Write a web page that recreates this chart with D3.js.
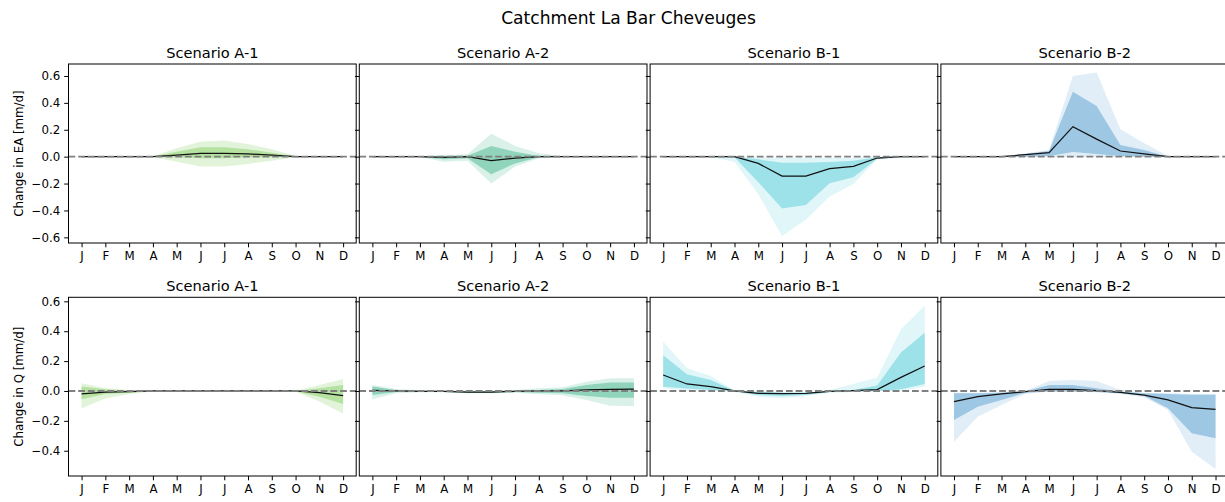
<!DOCTYPE html>
<html>
<head>
<meta charset="utf-8">
<script src="https://cdn.jsdelivr.net/npm/d3@7"></script>
<style>
  html, body { margin: 0; padding: 0; background: #fff; }
  svg { display: block; font-family: "DejaVu Sans", sans-serif; }
</style>
</head>
<body>
<svg id="chart" width="1225" height="502"></svg>
<script>
// Month tick labels and panel titles
const months = ["J", "F", "M", "A", "M", "J", "J", "A", "S", "O", "N", "D"];
const scenarios = ["Scenario A-1", "Scenario A-2", "Scenario B-1", "Scenario B-2"];

// Y axis ticks for each row
const ticksEA = [-0.6, -0.4, -0.2, 0.0, 0.2, 0.4, 0.6];
const ticksQ = [-0.4, -0.2, 0.0, 0.2, 0.4, 0.6];

// Change in actual evapotranspiration (EA), mm/d: median, inner band, outer band
const eaA1Med     = [0, 0, 0, 0, 0.012, 0.025, 0.025, 0.02, 0.012, 0, 0, 0];
const eaA1InnerHi = [0, 0, 0, 0.001, 0.037, 0.07, 0.07, 0.055, 0.03, 0.002, 0, 0];
const eaA1InnerLo = [0, 0, 0, -0.001, -0.005, -0.012, -0.012, -0.005, -0.005, 0, 0, 0];
const eaA1OuterHi = [0, 0, 0, 0.003, 0.062, 0.11, 0.12, 0.094, 0.055, 0.005, 0, 0];
const eaA1OuterLo = [0, 0, 0, -0.003, -0.037, -0.074, -0.074, -0.054, -0.03, -0.005, 0, 0];

const eaA2Med     = [0, 0, 0, -0.005, 0, -0.03, -0.01, 0, 0, 0, 0, 0];
const eaA2InnerHi = [0, 0, 0, 0.005, 0.007, 0.08, 0.037, 0.005, 0, 0, 0, 0];
const eaA2InnerLo = [0, 0, -0.002, -0.02, -0.012, -0.13, -0.05, -0.005, 0, 0, 0, 0];
const eaA2OuterHi = [0, 0, 0, 0.012, 0.017, 0.17, 0.08, 0.025, 0.005, 0, 0, 0];
const eaA2OuterLo = [0, 0, -0.003, -0.037, -0.03, -0.2, -0.074, -0.012, -0.003, 0, 0, 0];

const eaB1Med     = [0, 0, 0, 0, -0.05, -0.144, -0.144, -0.089, -0.072, -0.01, 0, 0];
const eaB1InnerHi = [0, 0, 0, 0, -0.02, -0.045, -0.045, -0.04, -0.03, -0.005, 0, 0];
const eaB1InnerLo = [0, 0, -0.002, -0.005, -0.19, -0.385, -0.36, -0.198, -0.153, -0.015, -0.005, 0];
const eaB1OuterHi = [0, 0, 0, 0, -0.005, -0.01, -0.01, -0.01, -0.01, 0, 0, 0];
const eaB1OuterLo = [0, 0, -0.005, -0.037, -0.28, -0.59, -0.47, -0.297, -0.203, -0.02, -0.008, 0];

const eaB2Med     = [0, 0, 0, 0.015, 0.03, 0.223, 0.13, 0.042, 0.02, 0, 0, 0];
const eaB2InnerHi = [0, 0, 0, 0.02, 0.042, 0.483, 0.377, 0.087, 0.05, 0, 0, 0];
const eaB2InnerLo = [0, 0, 0, 0, 0.005, 0.035, 0.02, 0.005, 0, 0, 0, 0];
const eaB2OuterHi = [0, 0, 0, 0.025, 0.05, 0.6, 0.625, 0.203, 0.1, 0.005, 0, 0];
const eaB2OuterLo = [0, 0, 0, -0.002, -0.003, -0.005, -0.003, -0.003, -0.002, 0, 0, 0];

// Change in discharge (Q), mm/d
const qA1Med     = [-0.02, -0.007, -0.004, 0, 0, 0, 0, 0, 0, 0, -0.011, -0.031];
const qA1InnerHi = [0.03, 0.011, 0.002, 0, 0, 0, 0, 0, 0, 0, 0.018, 0.04];
const qA1InnerLo = [-0.056, -0.02, -0.011, -0.002, -0.001, -0.001, -0.001, -0.001, -0.001, -0.002, -0.038, -0.087];
const qA1OuterHi = [0.051, 0.018, 0.006, 0.001, 0.001, 0.001, 0.001, 0.001, 0.001, 0.002, 0.04, 0.08];
const qA1OuterLo = [-0.116, -0.05, -0.02, -0.003, -0.002, -0.002, -0.002, -0.002, -0.002, -0.004, -0.071, -0.15];

const qA2Med     = [0.004, 0, -0.002, -0.002, -0.007, -0.007, -0.002, 0, 0, 0.007, 0.011, 0.013];
const qA2InnerHi = [0.03, 0.007, 0.002, 0, 0, 0, 0.002, 0.007, 0.013, 0.04, 0.056, 0.056];
const qA2InnerLo = [-0.027, -0.007, -0.007, -0.007, -0.011, -0.011, -0.007, -0.011, -0.016, -0.033, -0.045, -0.045];
const qA2OuterHi = [0.04, 0.013, 0.007, 0.002, 0.002, 0.002, 0.007, 0.018, 0.025, 0.062, 0.085, 0.085];
const qA2OuterLo = [-0.056, -0.016, -0.009, -0.009, -0.016, -0.016, -0.011, -0.022, -0.029, -0.06, -0.098, -0.1];

const qB1Med     = [0.107, 0.047, 0.029, 0, -0.016, -0.018, -0.016, -0.002, 0.002, 0.009, 0.091, 0.167];
const qB1InnerHi = [0.239, 0.112, 0.074, 0.002, -0.007, -0.011, -0.011, 0.002, 0.007, 0.036, 0.257, 0.39];
const qB1InnerLo = [0.029, 0.016, 0.007, -0.002, -0.027, -0.033, -0.027, -0.007, -0.004, -0.002, 0.011, 0.047];
const qB1OuterHi = [0.33, 0.152, 0.1, 0.004, -0.002, -0.007, -0.007, 0.007, 0.047, 0.089, 0.413, 0.571];
const qB1OuterLo = [0.018, 0.002, 0, -0.007, -0.038, -0.049, -0.033, -0.011, -0.007, -0.002, 0.002, 0.029];

const qB2Med     = [-0.071, -0.038, -0.02, -0.004, 0.011, 0.011, 0.002, -0.009, -0.027, -0.06, -0.112, -0.123];
const qB2InnerHi = [-0.016, -0.016, -0.011, -0.002, 0.04, 0.04, 0.018, -0.004, -0.016, -0.02, -0.025, -0.025];
const qB2InnerLo = [-0.194, -0.105, -0.06, -0.011, -0.004, -0.004, -0.007, -0.016, -0.033, -0.116, -0.283, -0.317];
const qB2OuterHi = [-0.011, -0.011, -0.007, 0, 0.067, 0.074, 0.067, 0.007, -0.011, -0.016, -0.02, -0.02];
const qB2OuterLo = [-0.339, -0.172, -0.094, -0.02, -0.004, -0.005, -0.009, -0.02, -0.042, -0.127, -0.406, -0.522];

// Band colours per scenario (outer = widest range, inner = central range)
const outerColors = ["#e1f4d9", "#d9f1e8", "#e0f6f8", "#e1eef7"];
const innerColors = ["#b5e2a1", "#8fd4bb", "#9de2e9", "#9ec7e3"];

// ---- layout ----
const svg = d3.select("#chart");
const font = "DejaVu Sans, sans-serif";
const panelLeft0 = 68.5, panelStep = 290.8, panelW = 287.7;

const rows = [
  {
    top: 64, bottom: 243, domain: [-0.642, 0.689], ticks: ticksEA,
    ylabel: "Change in EA [mm/d]",
    series: [
      [eaA1Med, eaA1InnerLo, eaA1InnerHi, eaA1OuterLo, eaA1OuterHi],
      [eaA2Med, eaA2InnerLo, eaA2InnerHi, eaA2OuterLo, eaA2OuterHi],
      [eaB1Med, eaB1InnerLo, eaB1InnerHi, eaB1OuterLo, eaB1OuterHi],
      [eaB2Med, eaB2InnerLo, eaB2InnerHi, eaB2OuterLo, eaB2OuterHi]
    ]
  },
  {
    top: 297.3, bottom: 476, domain: [-0.569, 0.627], ticks: ticksQ,
    ylabel: "Change in Q [mm/d]",
    series: [
      [qA1Med, qA1InnerLo, qA1InnerHi, qA1OuterLo, qA1OuterHi],
      [qA2Med, qA2InnerLo, qA2InnerHi, qA2OuterLo, qA2OuterHi],
      [qB1Med, qB1InnerLo, qB1InnerHi, qB1OuterLo, qB1OuterHi],
      [qB2Med, qB2InnerLo, qB2InnerHi, qB2OuterLo, qB2OuterHi]
    ]
  }
];

// Figure title
svg.append("text")
  .attr("x", 628.5).attr("y", 24)
  .attr("text-anchor", "middle")
  .attr("font-family", font).attr("font-size", 17.1)
  .attr("fill", "#000")
  .text("Catchment La Bar Cheveuges");

const tickFmt = d3.format(".1f");
let clipId = 0;

rows.forEach((row, r) => {
  const y = d3.scaleLinear().domain(row.domain).range([row.bottom, row.top]);

  // Row y label
  const cy = (row.top + row.bottom) / 2;
  svg.append("text")
    .attr("transform", `translate(18.5,${cy}) rotate(-90)`)
    .attr("text-anchor", "middle")
    .attr("dominant-baseline", "central")
    .attr("font-family", font).attr("font-size", 11.8)
    .attr("fill", "#000")
    .text(row.ylabel);

  row.series.forEach((s, c) => {
    const [med, inLo, inHi, outLo, outHi] = s;
    const left = panelLeft0 + c * panelStep;
    const x = d3.scaleLinear().domain([-0.55, 11.55]).range([left, left + panelW]);
    const g = svg.append("g");

    const id = "clip" + (clipId++);
    svg.append("clipPath").attr("id", id)
      .append("rect")
      .attr("x", left).attr("y", row.top)
      .attr("width", panelW).attr("height", row.bottom - row.top);

    const plot = g.append("g").attr("clip-path", `url(#${id})`);
    const idx = d3.range(months.length);

    const band = (lo, hi) => d3.area()
      .x(i => x(i)).y0(i => y(lo[i])).y1(i => y(hi[i]))(idx);

    plot.append("path").attr("d", band(outLo, outHi))
      .attr("fill", outerColors[c]).attr("stroke", "none");
    plot.append("path").attr("d", band(inLo, inHi))
      .attr("fill", innerColors[c]).attr("stroke", "none");

    plot.append("path")
      .attr("d", d3.line().x(i => x(i)).y(i => y(med[i]))(idx))
      .attr("fill", "none").attr("stroke", "#111").attr("stroke-width", 1.25);

    // Zero reference line
    plot.append("line")
      .attr("x1", left).attr("x2", left + panelW)
      .attr("y1", y(0)).attr("y2", y(0))
      .attr("stroke", "#808080").attr("stroke-width", 1.8)
      .attr("stroke-dasharray", "6.8,2.9");

    // Frame
    g.append("rect")
      .attr("x", left).attr("y", row.top)
      .attr("width", panelW).attr("height", row.bottom - row.top)
      .attr("fill", "none").attr("stroke", "#000").attr("stroke-width", 1);

    // X axis
    const xa = g.append("g")
      .attr("transform", `translate(0,${row.bottom})`)
      .call(d3.axisBottom(x).tickValues(idx).tickFormat(i => months[i])
        .tickSize(4.3).tickSizeOuter(0).tickPadding(4));
    xa.select(".domain").remove();
    xa.selectAll("line").attr("stroke", "#000").attr("stroke-width", 1);
    xa.selectAll("text").attr("font-family", font).attr("font-size", 11.8).attr("fill", "#000");

    // Y axis (labels only on the first column)
    const ya = g.append("g")
      .attr("transform", `translate(${left},0)`)
      .call(d3.axisLeft(y).tickValues(row.ticks)
        .tickFormat(c === 0 ? tickFmt : () => "")
        .tickSize(4.3).tickSizeOuter(0).tickPadding(4));
    ya.select(".domain").remove();
    ya.selectAll("line").attr("stroke", "#000").attr("stroke-width", 1);
    ya.selectAll("text").attr("font-family", font).attr("font-size", 11.8).attr("fill", "#000");

    // Panel title
    g.append("text")
      .attr("x", left + panelW / 2).attr("y", row.top - 6.5)
      .attr("text-anchor", "middle")
      .attr("font-family", font).attr("font-size", 14.6)
      .attr("fill", "#000")
      .text(scenarios[c]);
  });
});
</script>
</body>
</html>
